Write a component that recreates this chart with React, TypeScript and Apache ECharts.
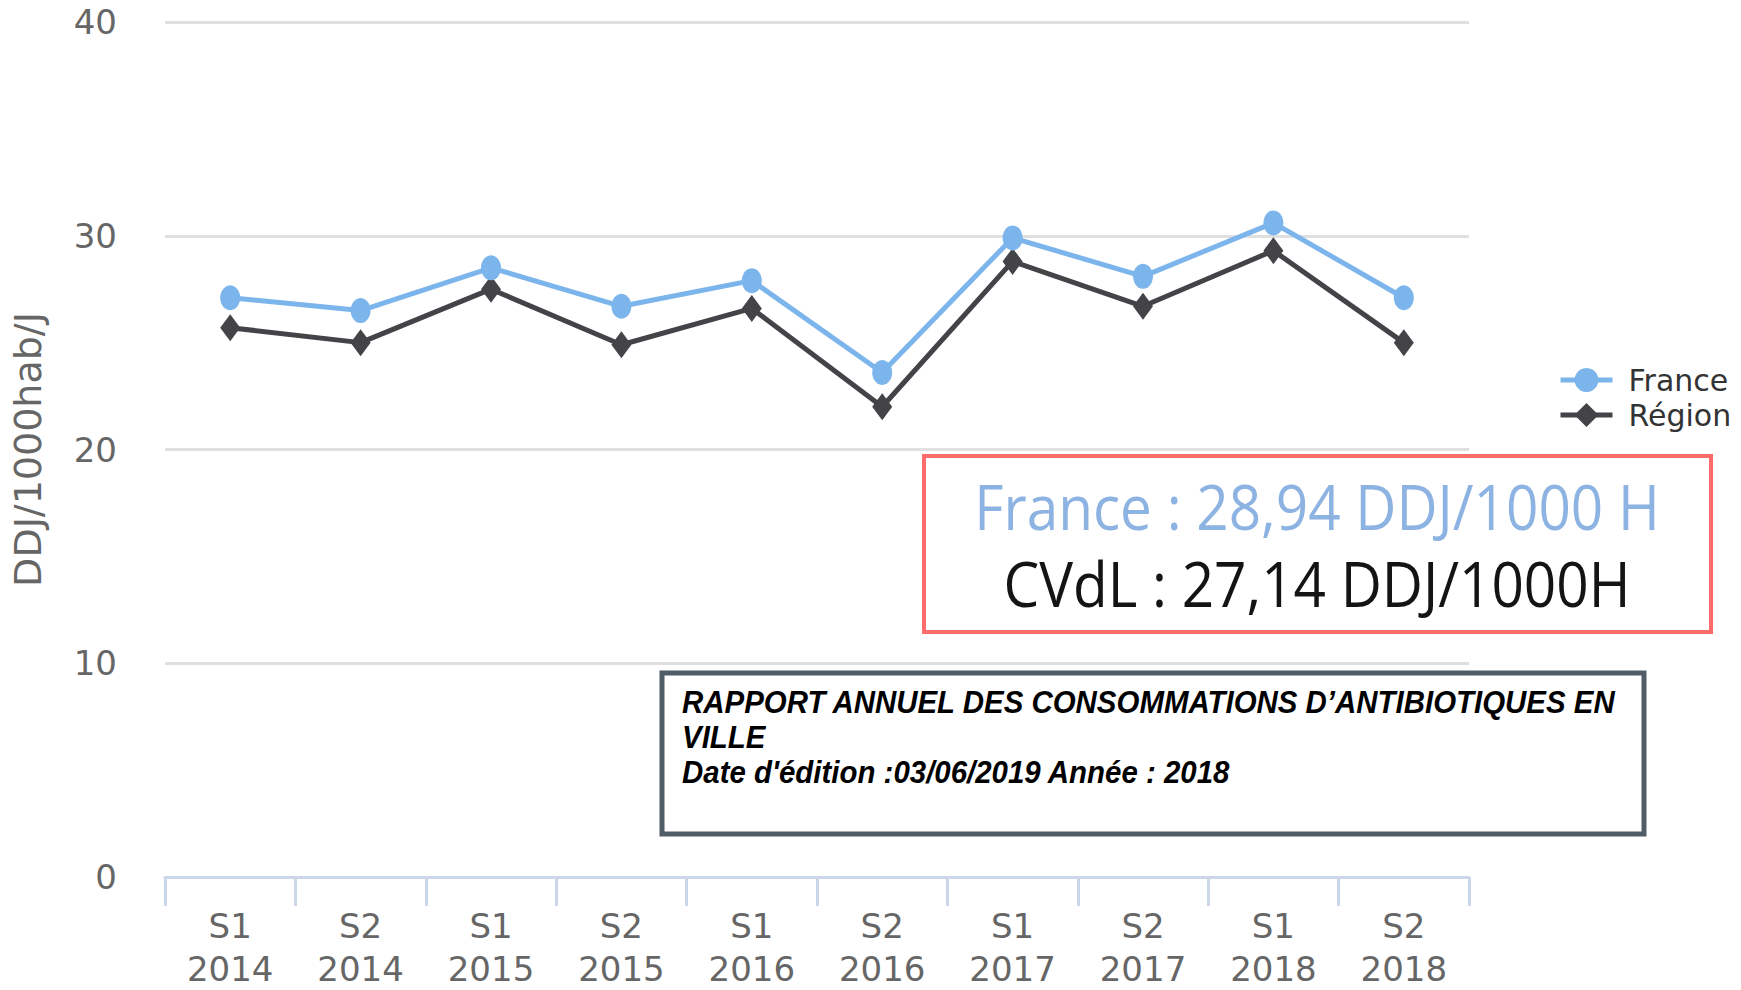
import React, { useEffect, useRef } from "react";
import * as echarts from "echarts";

const categories = [
  "S1\n2014", "S2\n2014", "S1\n2015", "S2\n2015", "S1\n2016",
  "S2\n2016", "S1\n2017", "S2\n2017", "S1\n2018", "S2\n2018",
];
const franceValues = [27.1, 26.5, 28.5, 26.7, 27.9, 23.6, 29.9, 28.1, 30.6, 27.1];
const regionValues = [25.7, 25.0, 27.5, 24.9, 26.6, 22.0, 28.8, 26.7, 29.3, 25.0];
const yMin = 0;
const yMax = 40;
const yInterval = 10;
const yAxisName = "DDJ/1000hab/J";
const seriesNames = ["France", "Région"];
const summaryFrance = "France : 28,94 DDJ/1000 H";
const summaryRegion = "CVdL : 27,14 DDJ/1000H";
const reportLines = [
  "RAPPORT ANNUEL DES CONSOMMATIONS D\u2019ANTIBIOTIQUES EN",
  "VILLE",
  "Date d'\u00e9dition :03/06/2019 Ann\u00e9e : 2018",
];

export default function App() {
  const ref = useRef<HTMLDivElement>(null);
  useEffect(() => {
    if (!ref.current) return;
    const chart = echarts.init(ref.current, undefined, { renderer: "svg" });
    const font = "DejaVu Sans";
    chart.setOption({
      animation: false,
      backgroundColor: "#ffffff",
      grid: { left: 165, right: 272, top: 22, bottom: 107, containLabel: false },
      legend: {
        orient: "vertical",
        left: 1553,
        top: 360,
        padding: 5,
        itemWidth: 52,
        itemHeight: 30,
        itemGap: 5,
        lineStyle: { width: 5 },
        textStyle: { fontFamily: font, fontSize: 30, color: "#333333", padding: [0, 0, 0, 11] },
        data: seriesNames,
      },
      xAxis: {
        type: "category",
        data: categories,
        boundaryGap: true,
        axisLine: { lineStyle: { color: "#ccd6eb", width: 3 } },
        axisTick: { show: true, length: 29, lineStyle: { color: "#ccd6eb", width: 3 } },
        axisLabel: {
          fontFamily: font,
          fontSize: 34,
          color: "#666666",
          lineHeight: 43,
          margin: 27,
          interval: 0,
        },
      },
      yAxis: {
        type: "value",
        min: yMin,
        max: yMax,
        interval: yInterval,
        name: yAxisName,
        nameLocation: "middle",
        nameGap: 118,
        nameTextStyle: { fontFamily: font, fontSize: 38, color: "#666666" },
        axisLine: { show: false },
        axisTick: { show: false },
        axisLabel: { fontFamily: font, fontSize: 34, color: "#666666", margin: 48 },
        splitLine: { lineStyle: { color: "#e0e0e0", width: 3 } },
      },
      series: [
        {
          name: seriesNames[0],
          type: "line",
          data: franceValues,
          symbol: "circle",
          symbolSize: [20, 25],
          lineStyle: { color: "#7cb5ec", width: 5 },
          itemStyle: { color: "#7cb5ec" },
          z: 3,
        },
        {
          name: seriesNames[1],
          type: "line",
          data: regionValues,
          symbol: "diamond",
          symbolSize: [20, 27],
          lineStyle: { color: "#434348", width: 5 },
          itemStyle: { color: "#434348" },
          z: 2,
        },
      ],
      graphic: [
        {
          type: "rect",
          z: 100,
          shape: { x: 924, y: 456, width: 787, height: 176 },
          style: { fill: "#ffffff", stroke: "#fd6b6b", lineWidth: 4 },
        },
        {
          type: "text",
          z: 101,
          x: 1317,
          y: 506,
          scaleX: 0.9,
          style: {
            text: summaryFrance,
            fontFamily: "Open Sans",
            fontSize: 63,
            fill: "#8db3e2",
            align: "center",
            verticalAlign: "middle",
          },
        },
        {
          type: "text",
          z: 101,
          x: 1317,
          y: 583,
          scaleX: 0.9,
          style: {
            text: summaryRegion,
            fontFamily: "Open Sans",
            fontSize: 63,
            fill: "#141414",
            align: "center",
            verticalAlign: "middle",
          },
        },
        {
          type: "rect",
          z: 100,
          shape: { x: 662, y: 673, width: 982, height: 161 },
          style: { fill: "#ffffff", stroke: "#505c68", lineWidth: 5 },
        },
        {
          type: "text",
          z: 101,
          x: 682,
          y: 685,
          scaleX: 0.95,
          style: {
            text: reportLines.join("\n"),
            fontFamily: "Liberation Sans",
            fontSize: 31,
            fontWeight: "bold",
            fontStyle: "italic",
            lineHeight: 35,
            fill: "#000000",
            align: "left",
            verticalAlign: "top",
          },
        },
      ],
    });
    return () => chart.dispose();
  }, []);
  return (
    <div
      ref={ref}
      style={{ position: "fixed", left: 0, top: 0, width: 1741, height: 990 }}
    />
  );
}
